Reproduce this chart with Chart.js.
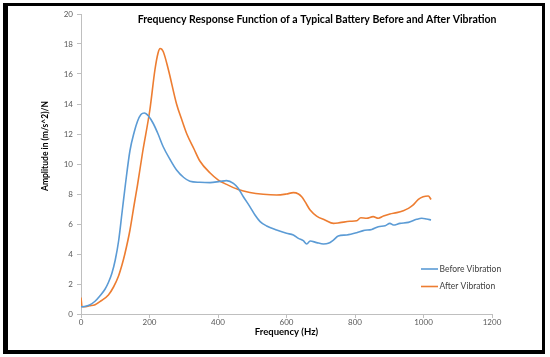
<!DOCTYPE html>
<html>
<head>
<meta charset="utf-8">
<script src="https://cdn.jsdelivr.net/npm/chart.js@4.4.1/dist/chart.umd.min.js"></script>
<style>
    html, body { margin: 0; padding: 0; background: #fff; }
    #wrap { position: relative; width: 550px; height: 357px; }
    #frcChart { position: absolute; left: 0; top: 0; }
    #frame {
        position: absolute; left: 3px; top: 3px; width: 542px; height: 351px;
        box-sizing: border-box; border-style: solid; border-color: #000;
        border-width: 3px 3px 4px 5px; pointer-events: none;
    }
</style>
</head>
<body>
<div id="wrap">
    <canvas id="frcChart" width="550" height="357"></canvas>
    <div id="frame"></div>
</div>
<script>
// Frequenzen (Hz) und Amplituden ((m/s^2)/N)
const beforeHz = [0, 10, 25, 41, 55, 70, 80, 90, 100, 110, 120, 130, 143, 155, 165, 175, 185, 197, 211, 225, 240, 260, 279, 300, 318, 347, 377, 406, 425, 445, 459, 474, 493, 508, 523, 542, 571, 600, 620, 635, 649, 659, 669, 688, 708, 722, 737, 751, 776, 805, 824, 849, 868, 888, 902, 912, 931, 956, 980, 995, 1009, 1022];
const beforeAmp = [0.48, 0.5, 0.6, 0.85, 1.2, 1.65, 2.1, 2.7, 3.6, 4.9, 6.8, 8.7, 10.9, 12.1, 12.85, 13.3, 13.4, 13.2, 12.7, 12.0, 11.15, 10.3, 9.6, 9.1, 8.85, 8.78, 8.76, 8.84, 8.89, 8.71, 8.38, 7.82, 7.16, 6.6, 6.16, 5.87, 5.6, 5.38, 5.27, 5.04, 4.89, 4.67, 4.87, 4.76, 4.67, 4.71, 4.93, 5.2, 5.27, 5.42, 5.56, 5.64, 5.82, 5.89, 6.04, 5.93, 6.04, 6.11, 6.31, 6.38, 6.33, 6.27];

const afterHz = [0, 3, 10, 25, 41, 60, 80, 95, 109, 120, 128, 143, 156, 165, 180, 201, 216, 225, 231, 240, 255, 279, 295, 309, 330, 347, 377, 401, 425, 459, 493, 532, 571, 600, 620, 635, 645, 654, 669, 688, 712, 737, 756, 785, 805, 817, 834, 853, 868, 883, 902, 922, 941, 956, 970, 985, 999, 1014, 1022];
const afterAmp = [1.1, 0.5, 0.48, 0.55, 0.62, 0.9, 1.27, 1.8, 2.5, 3.3, 4.0, 5.6, 7.4, 8.6, 10.8, 13.6, 16.3, 17.4, 17.7, 17.5, 16.3, 14.0, 12.9, 12.0, 11.0, 10.2, 9.4, 8.93, 8.64, 8.3, 8.1, 7.98, 7.93, 8.0, 8.09, 8.0, 7.8, 7.49, 6.93, 6.53, 6.27, 6.04, 6.09, 6.18, 6.22, 6.42, 6.38, 6.49, 6.38, 6.53, 6.67, 6.76, 6.89, 7.04, 7.27, 7.64, 7.82, 7.87, 7.64];

const seriesNames = ["Before Vibration", "After Vibration"];
const xTicks = [0, 200, 400, 600, 800, 1000, 1200];
const yTicks = [0, 2, 4, 6, 8, 10, 12, 14, 16, 18, 20];

const chartTitle = "Frequency Response Function of a Typical Battery Before and After Vibration";
const xTitle = "Frequency (Hz)";
const yTitle = "Amplitude in (m/s^2)/N";

const blue = "#5b9bd5";
const orange = "#ed7d31";
const axisGray = "#bfbfbf";
const fontFam = "Lato, 'Open Sans', sans-serif";

function toPoints(xs, ys) {
    return xs.map((x, i) => ({ x: x, y: ys[i] }));
}

// Titel, Y-Achsentitel und Legende im Excel-Stil selbst zeichnen
const excelText = {
    id: "excelText",
    afterDraw(chart) {
        const ctx = chart.ctx;
        const area = chart.chartArea;
        ctx.save();

        // Diagrammtitel
        ctx.fillStyle = "#000";
        ctx.font = "bold 10.5px " + fontFam;
        ctx.textAlign = "center";
        ctx.textBaseline = "middle";
        ctx.fillText(chartTitle, area.left + 236, area.top + 6);

        // Y-Achsentitel (gedreht)
        ctx.font = "bold 8.5px " + fontFam;
        ctx.translate(45, area.top + 132);
        ctx.rotate(-Math.PI / 2);
        ctx.fillText(yTitle, 0, 0);
        ctx.setTransform(1, 0, 0, 1, 0, 0);

        // Legende unten rechts
        ctx.font = "8.5px " + fontFam;
        ctx.textAlign = "left";
        const lx = area.left + 340;
        const ly = [area.top + 255, area.top + 272.5];
        chart.data.datasets.forEach((ds, i) => {
            ctx.strokeStyle = ds.borderColor;
            ctx.lineWidth = 1.6;
            ctx.beginPath();
            ctx.moveTo(lx, ly[i]);
            ctx.lineTo(lx + 17, ly[i]);
            ctx.stroke();
            ctx.fillStyle = "#404040";
            ctx.fillText(ds.label, lx + 18.5, ly[i]);
        });
        ctx.restore();
    }
};

const ctx = document.getElementById("frcChart").getContext("2d");
new Chart(ctx, {
    type: "line",
    data: {
        datasets: [{
            label: seriesNames[0],
            data: toPoints(beforeHz, beforeAmp),
            borderColor: blue,
            backgroundColor: blue,
            borderWidth: 1.6,
            pointRadius: 0,
            cubicInterpolationMode: "monotone"
        }, {
            label: seriesNames[1],
            data: toPoints(afterHz, afterAmp),
            borderColor: orange,
            backgroundColor: orange,
            borderWidth: 1.6,
            pointRadius: 0,
            cubicInterpolationMode: "monotone"
        }]
    },
    options: {
        responsive: false,
        animation: false,
        devicePixelRatio: 1,
        layout: { padding: { left: 30, top: 14, right: 58, bottom: 19 } },
        plugins: {
            legend: { display: false },
            title: { display: false },
            tooltip: { enabled: false }
        },
        scales: {
            x: {
                type: "linear",
                min: xTicks[0],
                max: xTicks[xTicks.length - 1],
                afterBuildTicks: (scale) => { scale.ticks = xTicks.map(v => ({ value: v })); },
                afterFit: (scale) => { scale.height = 24; },
                grid: { drawOnChartArea: false, drawTicks: true, tickLength: 4, color: axisGray },
                border: { color: axisGray },
                ticks: {
                    color: "#595959", font: { family: fontFam, size: 8 }, padding: 0, maxRotation: 0,
                    callback: (value) => String(value)
                },
                title: {
                    display: true, text: xTitle, color: "#000",
                    font: { family: fontFam, size: 9.5, weight: "bold" },
                    padding: { top: 0, bottom: 0 }
                }
            },
            y: {
                min: yTicks[0],
                max: yTicks[yTicks.length - 1],
                afterBuildTicks: (scale) => { scale.ticks = yTicks.map(v => ({ value: v })); },
                afterFit: (scale) => { scale.width = 51; },
                grid: { drawOnChartArea: false, drawTicks: true, tickLength: 4, color: axisGray },
                border: { color: axisGray },
                ticks: {
                    color: "#595959", font: { family: fontFam, size: 8 }, padding: 4,
                    callback: (value) => String(value)
                }
            }
        }
    },
    plugins: [excelText]
});
</script>
</body>
</html>
